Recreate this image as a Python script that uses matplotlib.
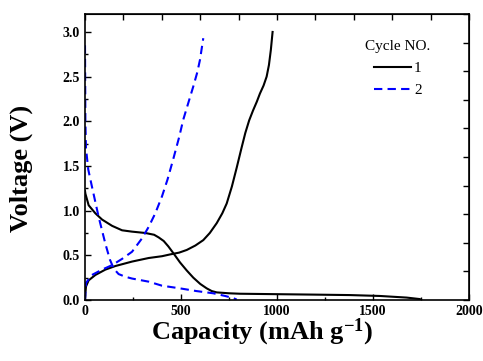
import matplotlib
matplotlib.use("Agg")
import matplotlib.pyplot as plt
from matplotlib.ticker import MultipleLocator, NullFormatter

plt.rcParams['font.family'] = ['Liberation Serif', 'DejaVu Serif']
plt.rcParams['mathtext.default'] = 'regular'

# cycle 1 (black, solid)
c1_dis_cap = [0, 2, 19, 54, 89, 141, 193, 245, 314, 360, 384, 410, 434, 465, 495, 530, 564, 600,
              634, 660, 686, 750, 807, 1000, 1200, 1380, 1536, 1675, 1745, 1750]
c1_dis_v = [1.22, 1.19, 1.06, 0.97, 0.90, 0.83, 0.78, 0.765, 0.75, 0.73, 0.70, 0.66, 0.60, 0.51, 0.42,
            0.33, 0.25, 0.18, 0.13, 0.10, 0.085, 0.075, 0.07, 0.065, 0.06, 0.055, 0.045, 0.027, 0.01, 0.0]
c1_chg_cap = [0, 5, 19, 54, 106, 158, 245, 332, 401, 443, 490, 530, 575, 616, 650, 686, 715, 738,
              765, 790, 815, 835, 855, 875, 895, 911, 930, 946, 958, 968, 977]
c1_chg_v = [0.02, 0.15, 0.22, 0.28, 0.34, 0.38, 0.43, 0.47, 0.49, 0.51, 0.53, 0.56, 0.61, 0.67, 0.75,
            0.86, 0.97, 1.08, 1.27, 1.48, 1.70, 1.87, 2.01, 2.12, 2.22, 2.31, 2.40, 2.50, 2.63, 2.80, 3.0]

# cycle 2 (blue, dashed)
c2_dis_cap = [0, 2, 5, 17, 36, 71, 106, 130, 150, 175, 210, 245, 332, 401, 495, 580, 668, 730, 773, 790]
c2_dis_v = [2.85, 2.0, 1.7, 1.46, 1.27, 0.93, 0.63, 0.45, 0.35, 0.29, 0.26, 0.24, 0.205, 0.16, 0.13,
            0.10, 0.075, 0.045, 0.02, 0.005]
c2_chg_cap = [0, 5, 36, 89, 141, 193, 245, 297, 332, 366, 401, 430, 460, 490, 512, 540, 564, 585, 599, 616]
c2_chg_v = [0.0, 0.19, 0.28, 0.34, 0.39, 0.46, 0.54, 0.69, 0.82, 0.97, 1.16, 1.35, 1.58, 1.82, 2.02,
            2.22, 2.39, 2.55, 2.69, 2.93]

fig = plt.figure(figsize=(4.83, 3.61), dpi=100)
ax = fig.add_axes([0.176, 0.169, 0.795, 0.792])

ax.plot(c1_dis_cap, c1_dis_v, '-', color='black', lw=1.5, label='1')
ax.plot(c1_chg_cap, c1_chg_v, '-', color='black', lw=1.5)
ax.plot(c2_dis_cap, c2_dis_v, '--', color='blue', lw=1.5, dashes=(4, 2.5), label='2')
ax.plot(c2_chg_cap, c2_chg_v, '--', color='blue', lw=1.5, dashes=(4, 2.5))

ax.set_xlim(0, 2000)
ax.set_ylim(0, 3.2)
ax.xaxis.set_major_locator(MultipleLocator(500))
ax.xaxis.set_minor_locator(MultipleLocator(250))
ax.yaxis.set_major_locator(MultipleLocator(0.5))
ax.yaxis.set_minor_locator(MultipleLocator(0.25))
ax.yaxis.set_major_formatter(plt.FormatStrFormatter('%.1f'))
ax.tick_params(which='both', direction='in', labelsize=10)
ax.tick_params(which='major', length=4, width=1)
ax.tick_params(which='minor', length=2.5, width=1)
for lab in ax.get_xticklabels() + ax.get_yticklabels():
    lab.set_fontweight('bold')
for sp in ax.spines.values():
    sp.set_linewidth(1.2)

# top and right axes with their own tick spacing
top = ax.secondary_xaxis('top')
top.set_xticks(range(0, 2001, 200))
top.xaxis.set_major_formatter(NullFormatter())
top.tick_params(direction='in', length=4, width=1)
right = ax.secondary_yaxis('right')
right.set_yticks([i * 0.32 for i in range(11)])
right.yaxis.set_major_formatter(NullFormatter())
right.tick_params(direction='in', length=4, width=1)

ax.set_xlabel(r'Capacity (mAh g$^{-1}$)', fontsize=19, fontweight='bold')
ax.xaxis.set_label_coords(0.46, -0.06)
ax.set_ylabel('Voltage (V)', fontsize=19, fontweight='bold')
ax.yaxis.set_label_coords(-0.135, 0.46)

leg = ax.legend(title='Cycle NO.', loc='upper right', bbox_to_anchor=(0.92, 0.935),
                frameon=False, fontsize=11, title_fontsize=11, handlelength=2.4,
                handletextpad=0.2, labelspacing=0.55, borderpad=0)

fig.savefig('out.png', dpi=100)
